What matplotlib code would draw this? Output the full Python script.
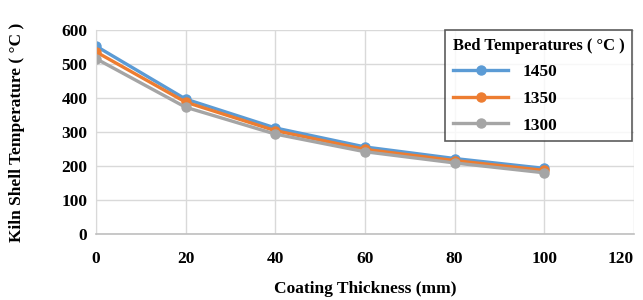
import matplotlib
matplotlib.use("Agg")
import matplotlib.pyplot as plt

plt.rcParams["font.family"] = ["Liberation Serif", "DejaVu Serif"]
plt.rcParams["font.weight"] = "bold"

# Coating thickness (mm) and kiln shell temperature (°C) per bed temperature
thickness = [0, 20, 40, 60, 80, 100]
t1450 = [553, 397, 312, 256, 222, 193]
t1350 = [536, 388, 304, 249, 216, 187]
t1300 = [516, 373, 294, 242, 209, 180]
series_labels = ["1450", "1350", "1300"]
colors = ["#5B9BD5", "#ED7D31", "#A5A5A5"]

fig = plt.figure(figsize=(6.43, 3.0), dpi=100)
ax = fig.add_axes([0.149, 0.22, 0.837, 0.68])

for vals, lab, c in zip([t1450, t1350, t1300], series_labels, colors):
    ax.plot(thickness, vals, "-o", color=c, lw=2.4, markersize=6.5, label=lab)

ax.set_xlim(0, 120)
ax.set_ylim(0, 600)
ax.set_xticks(range(0, 121, 20))
ax.set_yticks(range(0, 601, 100))
ax.grid(True, color="#D9D9D9", lw=1.0)
ax.set_axisbelow(True)
for s in ["top", "right"]:
    ax.spines[s].set_visible(False)
ax.spines["left"].set_color("#D9D9D9")
ax.spines["bottom"].set_color("#BFBFBF")
ax.spines["bottom"].set_linewidth(1.2)
ax.tick_params(length=0, labelsize=12.5)
ax.tick_params(axis="x", pad=12)
ax.tick_params(axis="y", pad=6)
ax.get_xticklabels()[-1].set_horizontalalignment("right")

ax.set_xlabel("Coating Thickness (mm)", fontsize=12.5, fontweight="bold", labelpad=10)
ax.set_ylabel("Kiln Shell Temperature ( °C )", fontsize=12.5, fontweight="bold", labelpad=26)

leg = ax.legend(title="Bed Temperatures ( °C )", loc="upper right",
                bbox_to_anchor=(0.997, 1.0), borderaxespad=0, fontsize=12.5,
                title_fontsize=12, frameon=True, fancybox=False, handlelength=3.2,
                labelspacing=0.6, borderpad=0.45, alignment="left")
leg.get_frame().set_edgecolor("#333333")
leg.get_frame().set_linewidth(1.2)
leg.get_title().set_fontweight("bold")
for t in leg.get_texts():
    t.set_fontweight("bold")

fig.savefig("out.png", dpi=100)
